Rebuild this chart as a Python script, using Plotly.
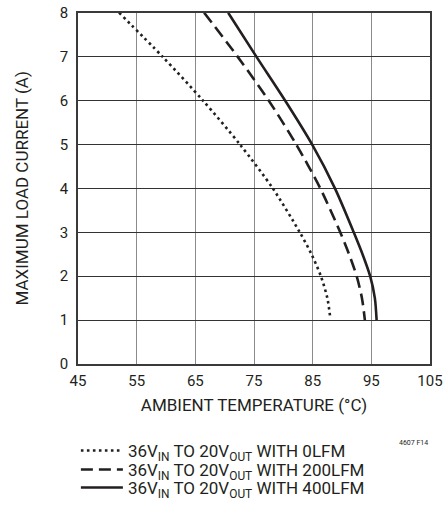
import plotly.graph_objects as go

# max load current vs ambient temperature
current_0lfm = [8, 7, 6, 5, 4, 3, 2.5, 2, 1.5, 1.05]
temp_0lfm = [52.0, 59.4, 66.3, 72.6, 78.2, 82.8, 84.8, 86.4, 87.5, 88.0]

current_200lfm = [8, 7, 6, 5, 4, 3, 2.5, 2, 1.5, 1]
temp_200lfm = [66.5, 72.2, 77.5, 82.2, 86.3, 89.7, 91.2, 92.5, 93.4, 93.9]

current_400lfm = [8, 7, 6, 5, 4, 3, 2.5, 2, 1.5, 1]
temp_400lfm = [70.6, 75.4, 80.3, 84.9, 88.8, 92.0, 93.5, 94.8, 95.6, 95.9]

names = ["36V<sub>IN</sub> TO 20V<sub>OUT</sub> WITH 0LFM",
         "36V<sub>IN</sub> TO 20V<sub>OUT</sub> WITH 200LFM",
         "36V<sub>IN</sub> TO 20V<sub>OUT</sub> WITH 400LFM"]

x_ticks = [45, 55, 65, 75, 85, 95, 105]
y_ticks = [0, 1, 2, 3, 4, 5, 6, 7, 8]

FONT = "Roboto, Liberation Sans, sans-serif"
INK = "#231f20"

fig = go.Figure()
fig.add_trace(go.Scatter(x=temp_0lfm, y=current_0lfm, mode="lines", name=names[0], legend="legend",
                         line=dict(color=INK, width=2.6, dash="2.6px,3.4px", shape="spline", smoothing=0.8)))
fig.add_trace(go.Scatter(x=temp_200lfm, y=current_200lfm, mode="lines", name=names[1], legend="legend2",
                         line=dict(color=INK, width=2.6, dash="12px,6px", shape="spline", smoothing=0.8)))
fig.add_trace(go.Scatter(x=temp_400lfm, y=current_400lfm, mode="lines", name=names[2], legend="legend3",
                         line=dict(color=INK, width=2.6, shape="spline", smoothing=0.8)))

fig.update_xaxes(range=[45, 105], tickvals=x_ticks, showgrid=True, gridcolor="#8a8a8a", gridwidth=1.2,
                 showline=True, mirror=True, linecolor="#3a3a3a", linewidth=1.5, zeroline=False,
                 automargin=False, ticklabelstandoff=2,
                 title=dict(text="AMBIENT TEMPERATURE (°C)", font=dict(size=17, color=INK), standoff=10),
                 tickfont=dict(size=15, color=INK))
# top/bottom margins are zero (so the legends get no extra padding push); the plot box is set by the domain
fig.update_yaxes(range=[0, 8], tickvals=y_ticks, domain=[0.2806, 0.9749],
                 showgrid=True, gridcolor="#333333", gridwidth=1.2,
                 showline=True, mirror=True, linecolor="#3a3a3a", linewidth=1.5, zeroline=False,
                 automargin=False,
                 title=dict(text="MAXIMUM LOAD CURRENT (A)", font=dict(size=17, color=INK), standoff=27),
                 tickfont=dict(size=15, color=INK), ticklabelstandoff=5)

fig.add_annotation(text="4607 F14", xref="paper", yref="paper", x=1.0, y=0.1245,
                   xanchor="right", yanchor="middle", showarrow=False,
                   font=dict(size=7, color=INK))

# one legend per row so the rows can sit closer together than a single legend allows
legend_style = dict(x=-0.006, xanchor="left", itemwidth=42,
                    font=dict(size=17, color=INK), bgcolor="rgba(0,0,0,0)")

fig.update_layout(width=448, height=506, margin=dict(l=78, r=18, t=0, b=0),
                  plot_bgcolor="white", paper_bgcolor="white",
                  font=dict(family=FONT, color=INK), showlegend=True,
                  legend=dict(y=0.1087, yanchor="middle", **legend_style),
                  legend2=dict(y=0.0711, yanchor="middle", **legend_style),
                  legend3=dict(y=0.0, yanchor="bottom", **legend_style))

# drop the default page margin so the figure sits at the window's top-left corner
fig.write_html("out.html", config={"displayModeBar": False},
               post_script="document.body.style.margin='0';")
